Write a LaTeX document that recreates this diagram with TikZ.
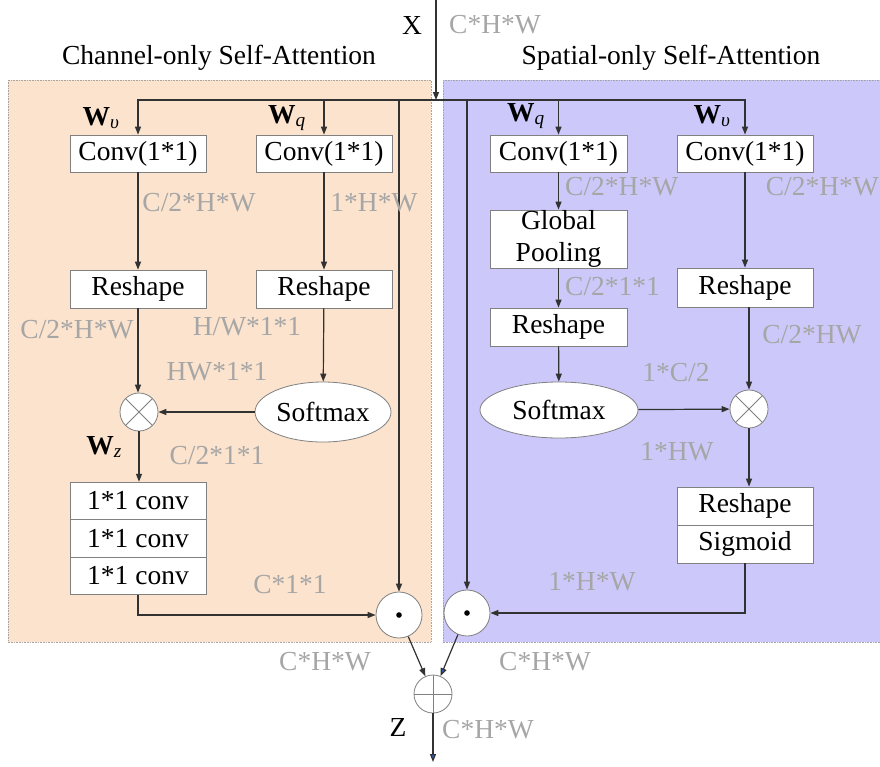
\documentclass[tikz,border=0pt]{standalone}
\usepackage{fontspec}
\setmainfont{Liberation Serif}
\usetikzlibrary{arrows.meta,shapes.geometric}
\definecolor{peach}{RGB}{251,227,205}
\definecolor{lav}{RGB}{204,201,250}
\definecolor{lbl}{RGB}{166,166,166}
\definecolor{lnc}{RGB}{50,50,50}
\definecolor{bx}{RGB}{128,128,128}
\definecolor{tipblue}{RGB}{50,90,190}
\begin{document}
\begin{tikzpicture}[x=1pt,y=-1pt,
  font=\fontsize{27.5}{30}\selectfont,
  box/.style={draw=bx, fill=white, line width=0.8pt, minimum width=136pt, minimum height=37pt, inner sep=0pt},
  ell/.style={ellipse, draw=bx, fill=white, line width=0.8pt, inner sep=0pt},
  lab/.style={text=lbl, inner sep=0pt},
  wlab/.style={inner sep=0pt},
  panel/.style={draw=lbl, densely dotted, line width=0.6pt},
  arr/.style={draw=lnc, line width=1.2pt, -{Triangle[length=8pt,width=6pt]}},
  barr/.style={draw=lnc, line width=1.2pt, -{Triangle[length=8pt,width=6pt,fill=tipblue]}},
  otimes/.style={circle, draw=bx, fill=white, minimum size=38pt, inner sep=0pt, line width=0.8pt,
    path picture={\draw[bx,line width=0.8pt] (path picture bounding box.center) +(45:19pt) -- +(225:19pt) +(135:19pt) -- +(-45:19pt);}},
  oplus/.style={circle, draw=bx, fill=white, minimum size=38pt, inner sep=0pt, line width=0.8pt,
    path picture={\draw[bx,line width=0.8pt] (path picture bounding box.center) +(0:19pt) -- +(180:19pt) +(90:19pt) -- +(-90:19pt);}},
  odot/.style={circle, draw=bx, fill=white, minimum size=46pt, inner sep=0pt, line width=0.8pt,
    path picture={\fill[black] (path picture bounding box.center) circle (2.8pt);}}
]
\useasboundingbox (0,0) rectangle (880,766);

% panels
\fill[peach] (8,80) rectangle (431,642);
\draw[panel] (8,80) rectangle (431,642);
\fill[lav] (443,80) rectangle (880,642);
\draw[panel] (443,80) -- (880,80) (443,80) -- (443,642) -- (880,642);

% titles
\node (tL) at (219,58) {Channel-only Self-Attention};
\node (tR) at (671,58) {Spatial-only Self-Attention};
\node (xl) at (412,25) {X};
\node[lab] (xdim) at (495,25) {C*H*W};

% left branch nodes
\node[box] (cvLv) at (138,153.5) {Conv(1*1)};
\node[box] (cvLq) at (324,153.5) {Conv(1*1)};
\node[box, minimum height=38pt] (rsL1) at (138,289) {Reshape};
\node[box, minimum height=38pt] (rsL2) at (324,289) {Reshape};
\node[otimes] (otL) at (139,412) {};
\node[ell, minimum width=136pt, minimum height=60pt] (smL) at (323,412) {Softmax};
\node[box, minimum height=37.7pt] (c1) at (138,501) {1*1 conv};
\node[box, minimum height=37.7pt] (c2) at (138,538.5) {1*1 conv};
\node[box, minimum height=37.7pt] (c3) at (138,576) {1*1 conv};
\node[odot] (dotL) at (399,615) {};

% right branch nodes
\node[box, minimum width=137pt] (cvRq) at (558.5,153.5) {Conv(1*1)};
\node[box] (cvRv) at (745,153.5) {Conv(1*1)};
\node[box, minimum width=137pt, minimum height=58pt, align=center] (gp) at (558.5,239) {Global\\[2pt]Pooling};
\node[box, minimum height=39pt] (rsR2) at (745,287.5) {Reshape};
\node[box, minimum width=137pt, minimum height=38pt] (rsR1) at (558.5,327) {Reshape};
\node[ell, minimum width=158pt, minimum height=56pt] (smR) at (559,410) {Softmax};
\node[otimes] (otR) at (749,409) {};
\node[box, minimum height=38pt] (rsg) at (745,506) {Reshape};
\node[box, minimum height=38pt] (sg) at (745,544) {Sigmoid};
\node[odot] (dotR) at (467,613) {};
\node[oplus] (plus) at (433,694) {};

% input and distribution
\coordinate (xin) at (436,0);
\coordinate (split) at (436,100);
\coordinate (zout) at (433,762);
\draw[arr] (xin) -- (split);
\draw[arr] (split) -| (cvLv.north);
\draw[arr] (split) -| (cvLq.north);
\draw[arr] (split) -| (dotL.north);
\draw[arr] (split) -| (dotR.north);
\draw[arr] (split) -| (cvRq.north);
\draw[arr] (split) -| (cvRv.north);

% left connectors
\draw[arr] (cvLv) -- (rsL1);
\draw[arr] (cvLq) -- (rsL2);
\draw[arr] (rsL1.south) -- (rsL1.south |- otL.north);
\draw[arr] (rsL2) -- (smL);
\draw[arr] (smL) -- (otL);
\draw[arr] (otL.south) -- (otL.south |- c1.north);
\draw[arr] (c3.south) |- (dotL.west);

% right connectors
\draw[arr] (cvRq) -- (gp);
\draw[arr] (gp) -- (rsR1);
\draw[arr] (rsR1) -- (smR);
\draw[arr] (cvRv) -- (rsR2);
\draw[arr] (otR.north |- rsR2.south) -- (otR.north);
\draw[arr] (smR) -- (otR);
\draw[arr] (otR.south) -- (otR.south |- rsg.north);
\draw[arr] (sg.south) |- (dotR.east);

% merge
\draw[arr] (dotL) -- (plus);
\draw[barr] (dotR) -- (plus);
\draw[barr] (plus.south) -- (zout);

% W labels
\node[wlab] (wLv) at (101,118) {\textbf{W}\textsubscript{\textit{υ}}};
\node[wlab] (wLq) at (287,118) {\textbf{W}\textsubscript{\textit{q}}};
\node[wlab] (wLz) at (104,447) {\textbf{W}\textsubscript{\textit{z}}};
\node[wlab] (wRq) at (526,116) {\textbf{W}\textsubscript{\textit{q}}};
\node[wlab] (wRv) at (712,116) {\textbf{W}\textsubscript{\textit{υ}}};

% dimension labels
\node[lab] (d1) at (199,203) {C/2*H*W};
\node[lab] (d2) at (374,203) {1*H*W};
\node[lab] (d3) at (77,330) {C/2*H*W};
\node[lab] (d4) at (247,327) {H/W*1*1};
\node[lab] (d5) at (217,372) {HW*1*1};
\node[lab] (d6) at (217,456) {C/2*1*1};
\node[lab] (d7) at (290,585) {C*1*1};
\node[lab, anchor=west] (d8) at (565,187) {C/2*H*W};
\node[lab, anchor=east] (d9) at (879,187) {C/2*H*W};
\node[lab, anchor=west] (d10) at (565,287) {C/2*1*1};
\node[lab] (d11) at (812,335) {C/2*HW};
\node[lab] (d12) at (676,373) {1*C/2};
\node[lab] (d13) at (677,452) {1*HW};
\node[lab] (d14) at (592,582) {1*H*W};
\node[lab] (d15) at (325,662) {C*H*W};
\node[lab] (d16) at (545,662) {C*H*W};
\node[lab] (d17) at (488,730) {C*H*W};
\node (zl) at (398,727) {Z};
\end{tikzpicture}
\end{document}
